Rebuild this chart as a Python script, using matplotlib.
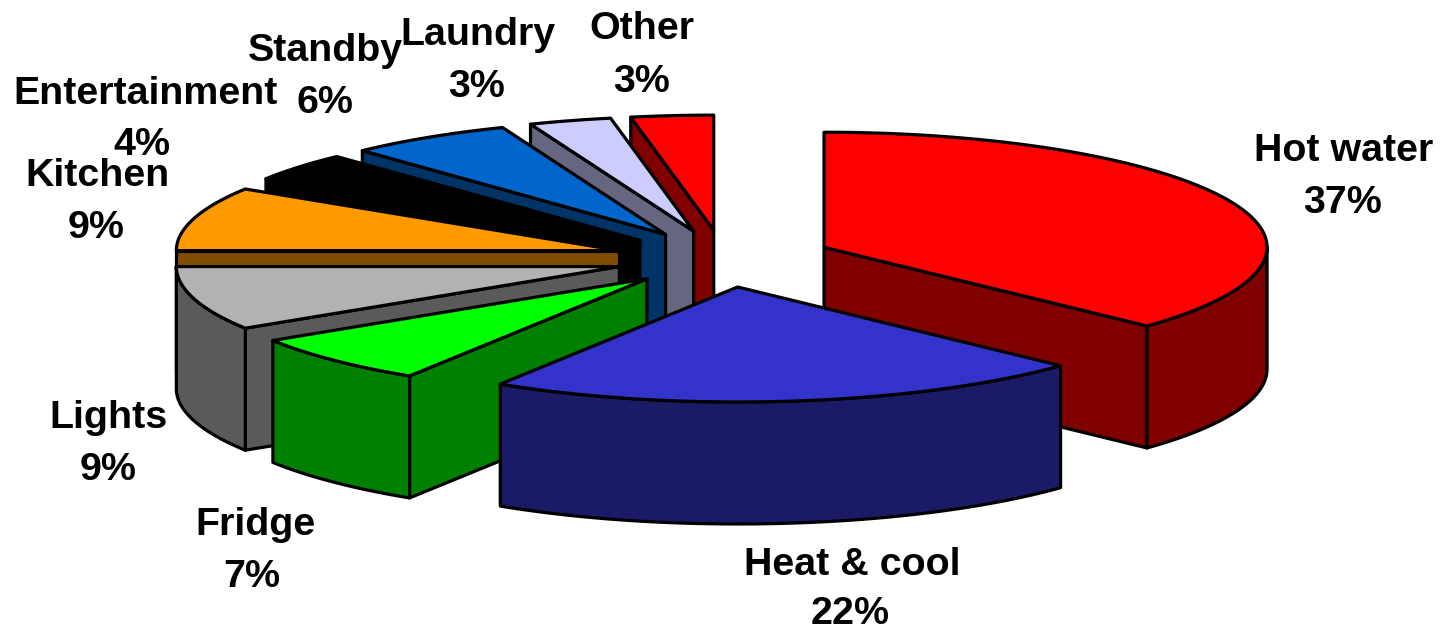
import numpy as np
import matplotlib
matplotlib.use('Agg')
import matplotlib.pyplot as plt
from matplotlib.patches import Polygon

categories = ['Hot water', 'Heat & cool', 'Fridge', 'Lights', 'Kitchen',
              'Entertainment', 'Standby', 'Laundry', 'Other']
values = [37, 22, 7, 9, 9, 4, 6, 3, 3]
top_colors = ['#FF0000', '#3333CC', '#00FF00', '#B2B2B2', '#FF9900',
              '#000000', '#0066CC', '#CCCCFF', '#FF0000']
side_colors = ['#800000', '#1A1A66', '#008000', '#5A5A5A', '#804D00',
               '#000000', '#003366', '#666680', '#800000']
name_centers = [(1344, 151), (852, 565), (255, 525), (109, 418), (98, 176),
                (146, 94), (325, 51), (478, 35), (642, 29)]
percent_centers = [(1343, 203), (850, 614), (252, 577), (108, 470), (96, 228),
                   (142, 145), (325, 103), (477, 87), (642, 82)]

# pie geometry, all in pixels of the output picture
center_x, center_y = 724, 258.6
radius_x, radius_y = 443, 115
explode_x, explode_y = 109, 28.6
depth = 122
line = 2.3


def project(angle, rx, ry, ox, oy):
    # angle in degrees, clockwise from the top of the pie
    a = np.radians(angle)
    return ox + rx * np.sin(a), oy - ry * np.cos(a)


def arc(start, end, ox, oy):
    angles = np.linspace(start, end, max(int(end - start) * 2, 2))
    xs, ys = project(angles, radius_x, radius_y, ox, oy)
    return np.column_stack([xs, ys])


fig = plt.figure(figsize=(14.4, 6.3), dpi=100)
ax = fig.add_axes([0, 0, 1, 1])
ax.set_xlim(0, 1440)
ax.set_ylim(630, 0)
ax.axis('off')

edges = np.cumsum([0] + values) / sum(values) * 360
slices = []
for i in range(len(values)):
    start, end = edges[i], edges[i + 1]
    mid = (start + end) / 2
    ox, oy = project(mid, explode_x, explode_y, center_x, center_y)
    slices.append((oy, i, start, end, ox))
slices.sort()

z = 1
for oy, i, start, end, ox in slices:
    shift = np.array([0, depth])
    apex = np.array([ox, oy])
    faces = []
    # cut faces that look towards the viewer
    if 180 <= start < 360:
        rim = np.array(project(start, radius_x, radius_y, ox, oy))
        faces.append([apex, rim, rim + shift, apex + shift])
    if 0 < end < 180:
        rim = np.array(project(end, radius_x, radius_y, ox, oy))
        faces.append([apex, rim, rim + shift, apex + shift])
    # outer wall, only the front half of the rim shows
    lo, hi = max(start, 90), min(end, 270)
    if lo < hi:
        wall = arc(lo, hi, ox, oy)
        faces.append(np.vstack([wall, wall[::-1] + shift]))
    for face in faces:
        ax.add_patch(Polygon(np.array(face), closed=True, facecolor=side_colors[i],
                             edgecolor='black', linewidth=line, joinstyle='round', zorder=z))
    top = np.vstack([apex, arc(start, end, ox, oy)])
    ax.add_patch(Polygon(top, closed=True, facecolor=top_colors[i],
                         edgecolor='black', linewidth=line, joinstyle='round', zorder=z + 1))
    z += 2

for name, value, name_xy, percent_xy in zip(categories, values, name_centers, percent_centers):
    ax.text(name_xy[0], name_xy[1], name, family='Liberation Sans', fontweight='bold', fontsize=28.4,
            ha='center', va='center', color='black', zorder=50)
    ax.text(percent_xy[0], percent_xy[1], f'{value}%', family='Liberation Sans', fontweight='bold',
            fontsize=28.4, ha='center', va='center', color='black', zorder=50)

fig.savefig('out.png', dpi=100)
